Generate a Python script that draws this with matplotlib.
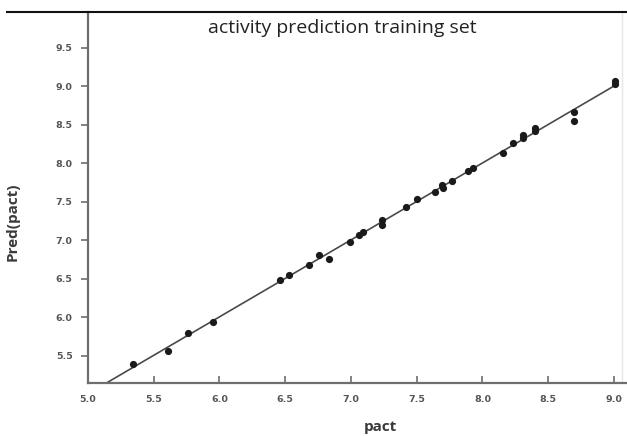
import numpy as np
import matplotlib
matplotlib.use("Agg")
import matplotlib.pyplot as plt
from matplotlib.lines import Line2D

# Observed activity (pact) vs. predicted activity for the training set
pact = [5.345, 5.606, 5.758, 5.953, 6.46, 6.53, 6.68, 6.76, 6.835, 6.99,
        7.06, 7.09, 7.24, 7.24, 7.418, 7.50, 7.64, 7.69, 7.70, 7.77,
        7.89, 7.93, 8.16, 8.23, 8.31, 8.31, 8.40, 8.40, 8.70, 8.70,
        9.01, 9.01]
pred = [5.39, 5.56, 5.79, 5.93, 6.48, 6.54, 6.67, 6.81, 6.76, 6.98,
        7.06, 7.10, 7.26, 7.19, 7.425, 7.53, 7.63, 7.71, 7.68, 7.77,
        7.89, 7.93, 8.13, 8.26, 8.33, 8.37, 8.41, 8.45, 8.66, 8.54,
        9.03, 9.07]

x_ticks = [5.0, 5.5, 6.0, 6.5, 7.0, 7.5, 8.0, 8.5, 9.0]
y_ticks = [5.5, 6.0, 6.5, 7.0, 7.5, 8.0, 8.5, 9.0, 9.5]

W, H = 627, 436
fig = plt.figure(figsize=(W / 100, H / 100), dpi=100)
ax = fig.add_axes([88 / W, 1 - 382.7 / H, 1 - 88 / W, (382.7 - 12.5) / H])

ax.set_xlim(5.0, 9.10)
ax.set_ylim(5.147, 9.955)

# least-squares fit through the training points
slope, intercept = np.polyfit(pact, pred, 1)
fx = np.array([5.0, 9.02])
ax.plot(fx, slope * fx + intercept, color="#4a4a4a", lw=1.2, zorder=2)

ax.plot(pact, pred, "o", color="#1a1a1a", ms=5.2, mew=0, zorder=3)

# faint right-hand border
ax.axvline(9.06, color="#e6e6e6", lw=1.0, zorder=1)

for s in ["top", "right"]:
    ax.spines[s].set_visible(False)
for s in ["left", "bottom"]:
    ax.spines[s].set_color("#6e6e6e")
    ax.spines[s].set_linewidth(1.6)

ax.set_xticks(x_ticks)
ax.set_yticks(y_ticks)
ax.set_xticklabels([f"{v:.1f}" for v in x_ticks])
ax.set_yticklabels([f"{v:.1f}" for v in y_ticks])
ax.tick_params(axis="x", direction="in", length=5, width=1.2, color="#6e6e6e",
               labelsize=6.8, labelcolor="#555555", pad=9)
ax.tick_params(axis="y", direction="out", length=5, width=1.2, color="#6e6e6e",
               labelsize=6.8, labelcolor="#555555", pad=6)
for lab in ax.get_xticklabels() + ax.get_yticklabels():
    lab.set_fontweight("bold")

ax.text(0.472, 0.958, "activity prediction training set", transform=ax.transAxes,
        ha="center", va="center", fontsize=14, color="#222222",
        family="Open Sans")

fig.text(380 / W, 1 - 427 / H, "pact", ha="center", va="center",
         fontsize=11, fontweight="bold", color="#3a3a3a", family="Open Sans")
fig.text(13 / W, 1 - 222 / H, "Pred(pact)", ha="center", va="center",
         rotation=90, fontsize=11, fontweight="bold", color="#3a3a3a",
         family="Open Sans")

# frame line across the top
fig.add_artist(Line2D([7 / W, 1.0], [1 - 12.5 / H, 1 - 12.5 / H],
                      transform=fig.transFigure, color="#111111", lw=1.5))

fig.savefig("out.png", dpi=100)
